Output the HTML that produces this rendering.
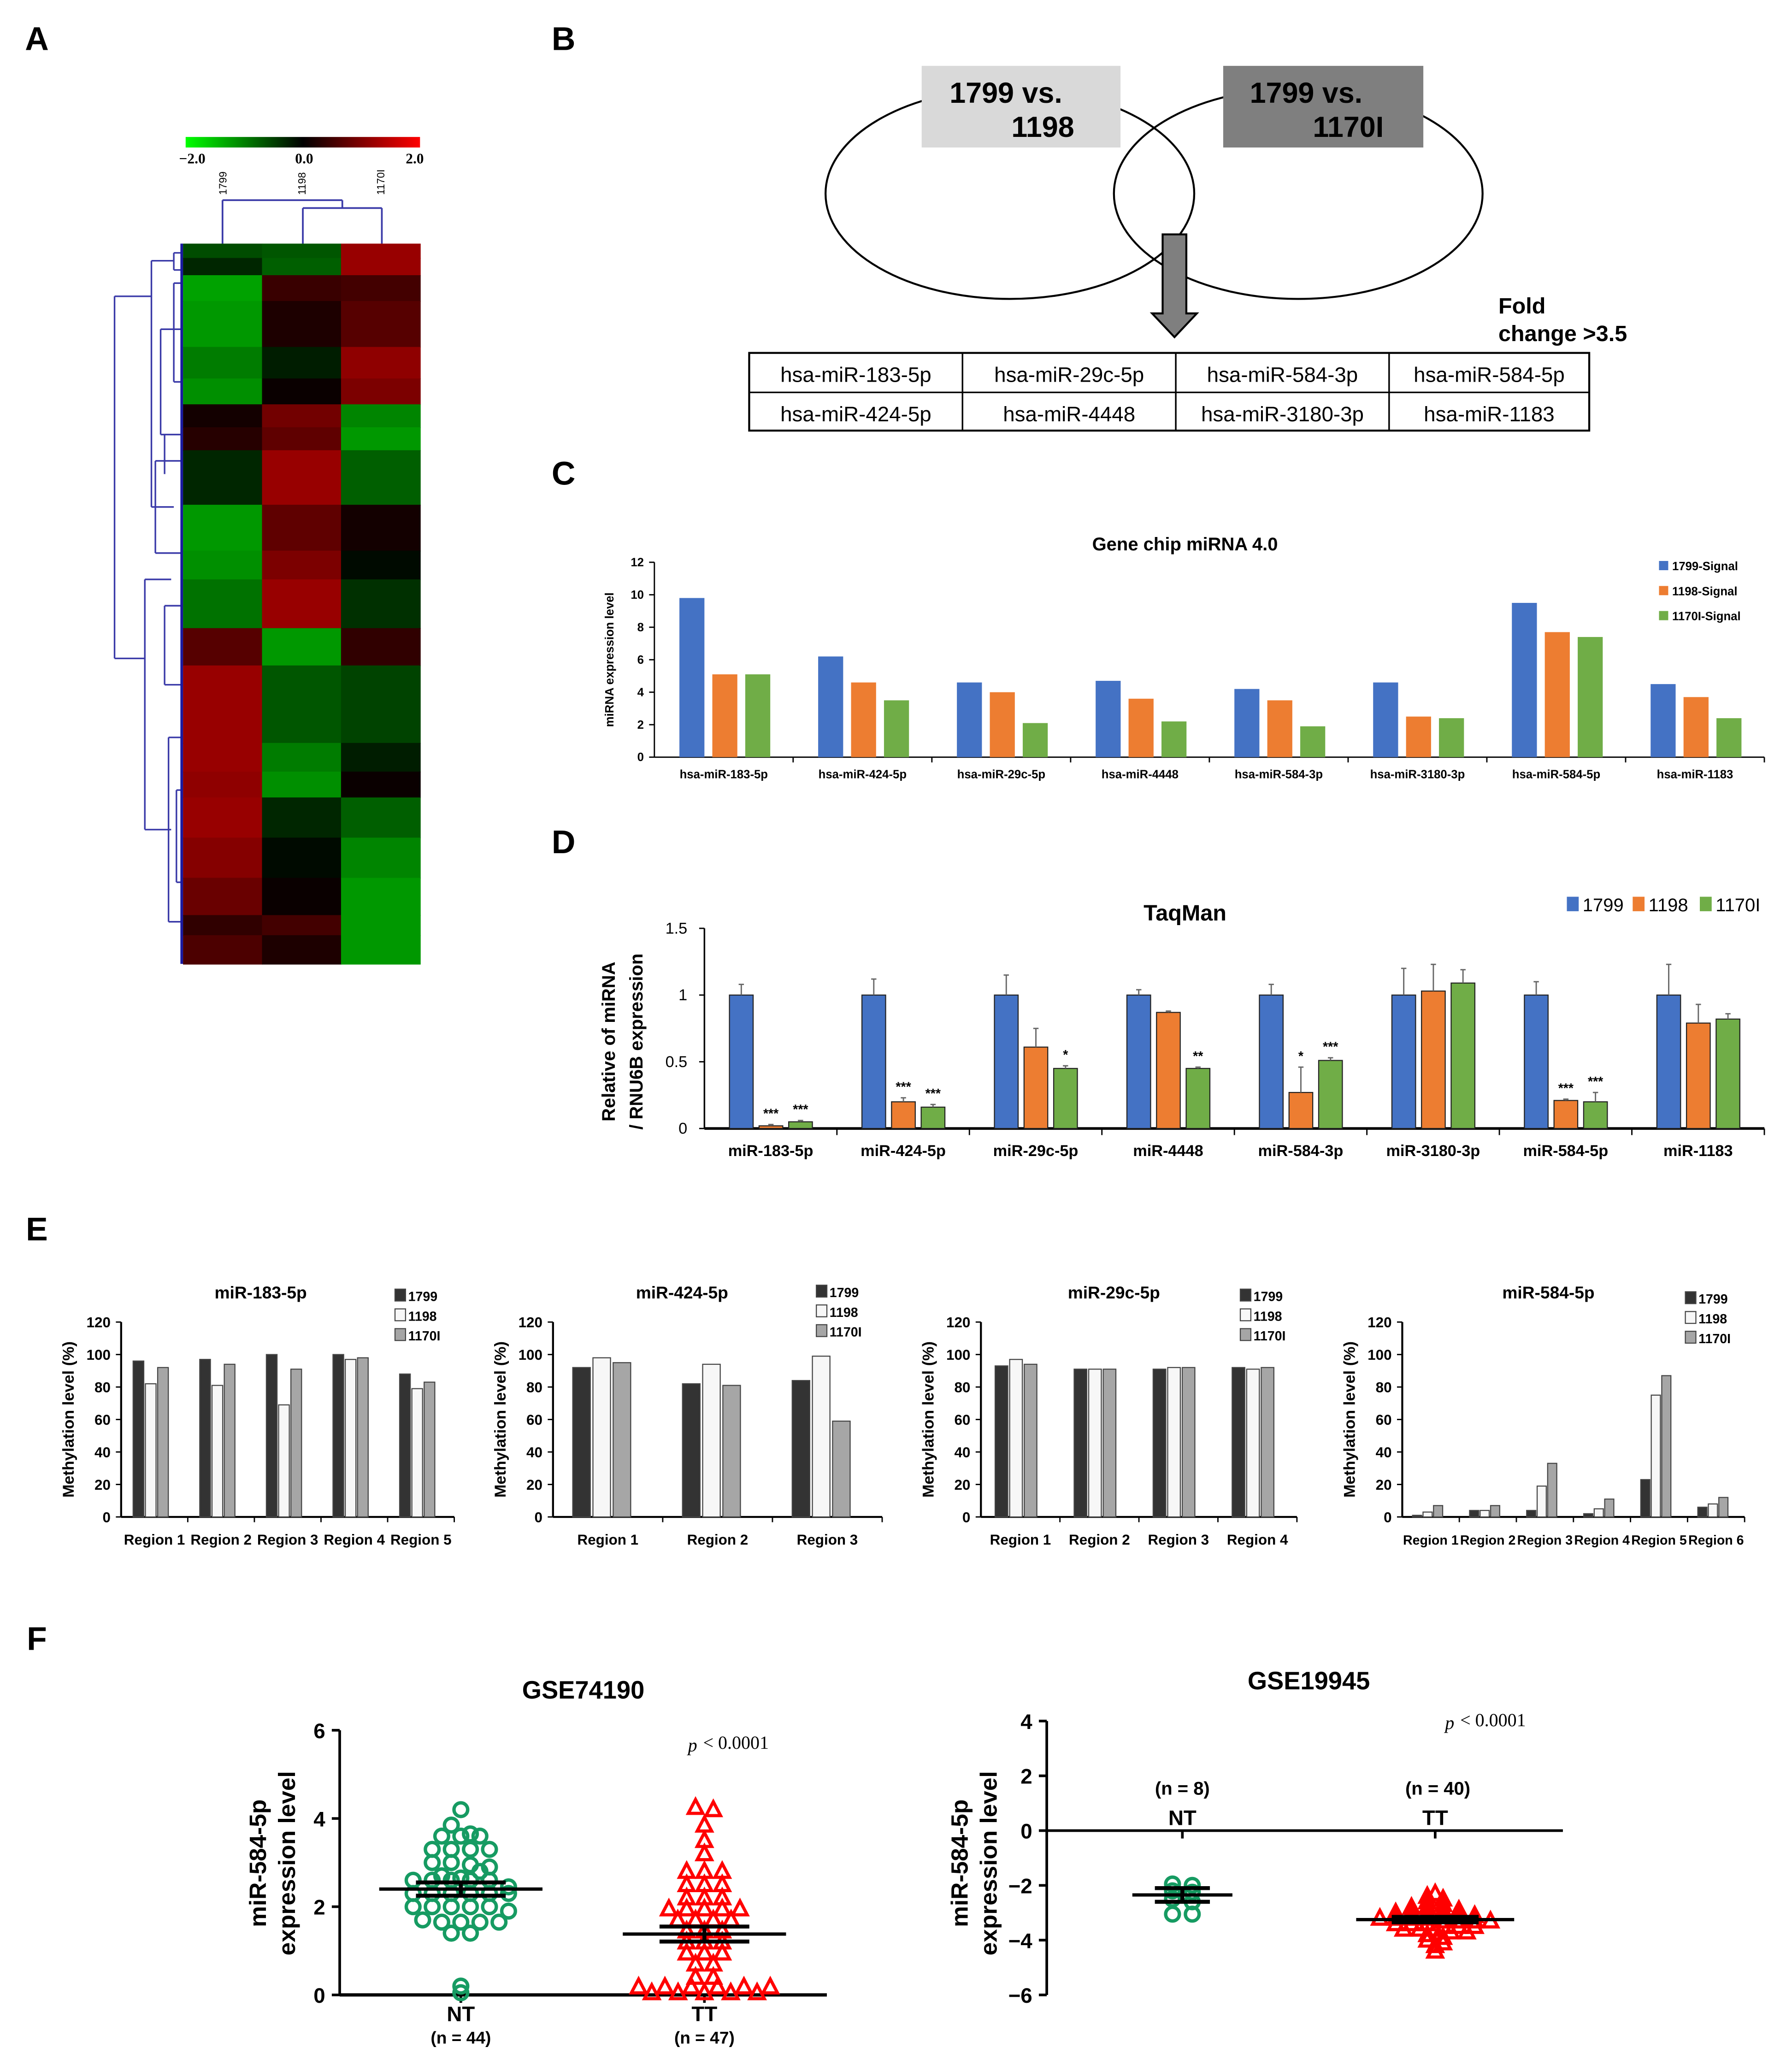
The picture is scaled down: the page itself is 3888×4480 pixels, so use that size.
<!DOCTYPE html>
<html><head><meta charset="utf-8"><style>
html,body{margin:0;padding:0;background:#fff}
svg{display:block;font-family:"Liberation Sans",sans-serif}
</style></head><body>
<svg id="fig" width="3888" height="4480" viewBox="0 0 1361 1568.2" xmlns="http://www.w3.org/2000/svg">
<g id="root"></g>
</svg>
<script>
// ---------- DATA ----------
const hmStarts=[0,25,55,100,180,235,280,320,360,455,535,585,670,735,870,920,965,1035,1105,1170,1205];
const hmEnd=1255;
const hm1799=[-0.8,-0.4,-1.7,-1.6,-1.3,-1.5,0.2,0.4,-0.4,-1.6,-1.5,-1.2,0.9,1.6,1.6,1.5,1.6,1.4,1.1,0.5,0.8];
const hm1198=[-0.9,-1.0,0.6,0.3,-0.3,0.1,1.2,1.0,1.6,1.0,1.3,1.6,-1.6,-0.9,-1.3,-1.5,-0.4,-0.1,0.1,0.7,0.3];
const hm1170=[1.6,1.6,0.7,0.9,1.5,1.3,-1.4,-1.6,-1.0,0.2,-0.1,-0.5,0.5,-0.7,-0.3,0.1,-1.0,-1.4,-1.6,-1.6,-1.6];
const tableRows=[["hsa-miR-183-5p","hsa-miR-29c-5p","hsa-miR-584-3p","hsa-miR-584-5p"],["hsa-miR-424-5p","hsa-miR-4448","hsa-miR-3180-3p","hsa-miR-1183"]];

const cCats=["hsa-miR-183-5p","hsa-miR-424-5p","hsa-miR-29c-5p","hsa-miR-4448","hsa-miR-584-3p","hsa-miR-3180-3p","hsa-miR-584-5p","hsa-miR-1183"];
const c1799=[9.8,6.2,4.6,4.7,4.2,4.6,9.5,4.5];
const c1198=[5.1,4.6,4.0,3.6,3.5,2.5,7.7,3.7];
const c1170=[5.1,3.5,2.1,2.2,1.9,2.4,7.4,2.4];
const cTicks=[0,2,4,6,8,10,12];

const dCats=["miR-183-5p","miR-424-5p","miR-29c-5p","miR-4448","miR-584-3p","miR-3180-3p","miR-584-5p","miR-1183"];
const d1799=[1,1,1,1,1,1,1,1];
const d1198=[0.02,0.2,0.61,0.87,0.27,1.03,0.21,0.79];
const d1170=[0.05,0.16,0.45,0.45,0.51,1.09,0.2,0.82];
const e1799=[0.08,0.12,0.15,0.04,0.08,0.2,0.1,0.23];
const e1198=[0.01,0.03,0.14,0.01,0.19,0.2,0.01,0.14];
const e1170=[0.01,0.02,0.02,0.01,0.02,0.1,0.07,0.04];
const s1198=["***","***","","","*","","***",""];
const s1170=["***","***","*","**","***","","***",""];
const dTicks=[0,0.5,1,1.5];
const dTickLabels=["0","0.5","1","1.5"];

const eTitles=["miR-183-5p","miR-424-5p","miR-29c-5p","miR-584-5p"];
const eA1799=[96,97,100,100,88], eA1198=[82,81,69,97,79], eA1170=[92,94,91,98,83];
const eB1799=[92,82,84], eB1198=[98,94,99], eB1170=[95,81,59];
const eC1799=[93,91,91,92], eC1198=[97,91,92,91], eC1170=[94,91,92,92];
const eD1799=[1,4,4,2,23,6], eD1198=[3,4,19,5,75,8], eD1170=[7,7,33,11,87,12];
const eTicks=[0,20,40,60,80,100,120];

const fLeftNT=[4.2,3.85,3.65,3.6,3.6,3.6,3.3,3.3,3.3,3.3,3.0,3.0,2.95,2.9,2.7,2.65,2.6,2.6,2.6,2.6,2.6,2.3,2.3,2.3,2.3,2.3,2.3,2.0,2.0,2.0,2.0,2.0,1.9,1.7,1.65,1.65,1.65,1.65,1.4,1.4,0.2,0.05,2.45,2.8];
const fLeftTT=[4.25,4.2,3.85,3.5,3.2,2.8,2.8,2.8,2.5,2.5,2.5,2.2,2.2,2.2,1.95,1.95,1.95,1.95,1.95,1.7,1.7,1.7,1.7,1.45,1.45,1.45,1.2,1.2,1.2,0.95,0.95,0.95,0.7,0.7,0.4,0.4,0.18,0.18,0.18,0.18,0.18,0.18,0.05,0.05,0.05,0.05,0.05];
const fLeftMean=[2.4,1.38], fLeftSem=[0.15,0.17];
const fRightNT=[-1.95,-2.0,-2.2,-2.25,-2.5,-2.6,-3.05,-3.05];
const fRightTT=[-2.3,-2.4,-2.5,-2.6,-2.7,-2.8,-2.8,-2.9,-2.9,-3.0,-3.0,-3.0,-3.1,-3.1,-3.1,-3.2,-3.2,-3.2,-3.2,-3.3,-3.3,-3.3,-3.3,-3.4,-3.4,-3.4,-3.5,-3.5,-3.5,-3.6,-3.6,-3.6,-3.7,-3.7,-3.8,-3.9,-4.0,-4.1,-4.2,-4.4];
const fRightMean=[-2.35,-3.25], fRightSem=[0.25,0.1];

// ---------- HELPERS ----------
const NS="http://www.w3.org/2000/svg";
const root=document.getElementById('root');
function mk(tag,at,par){const e=document.createElementNS(NS,tag);for(const k in at)e.setAttribute(k,at[k]);(par||root).appendChild(e);return e;}
function txt(s,x,y,size,opts,par){const o=Object.assign({x:x,y:y,'font-size':size,'font-weight':'bold','text-anchor':'middle',fill:'#000'},opts||{});const t=mk('text',o,par);t.textContent=s;return t;}
function lin(x1,y1,x2,y2,w,c,par){return mk('line',{x1:x1,y1:y1,x2:x2,y2:y2,stroke:c||'#000','stroke-width':w||1},par);}
function hmColor(v){const a=Math.min(1,Math.abs(v)/2);const c=Math.round(190*a);return v<0?`rgb(0,${c},0)`:`rgb(${c},0,0)`;}

// ---------- PANEL LETTERS ----------
[["A",28,38],["B",428,38],["C",428,368],["D",428,648],["E",28,942],["F",28,1253]].forEach(p=>{
  const t=txt(p[0],p[1],p[2],25,{});
  
  
});

// ---------- PANEL A: HEATMAP ----------
const gA=mk('g',{});


const hmX=139,hmY=185,hmW=180,hmH=547,colW=hmW/3;
const hmCols=[hm1799,hm1198,hm1170];
hmCols.forEach((col,ci)=>{
  col.forEach((v,ri)=>{
    const y0=hmY+hmStarts[ri]/hmEnd*hmH, y1=hmY+(ri+1<hmStarts.length?hmStarts[ri+1]:hmEnd)/hmEnd*hmH;
    const r=mk('rect',{x:hmX+ci*colW,y:y0,width:colW+0.5,height:y1-y0+0.5,fill:hmColor(v)},gA);
    
    
  });
});
const defs=mk('defs',{});
const lg=mk('linearGradient',{id:'cbar',x1:0,x2:1,y1:0,y2:0},defs);
mk('stop',{offset:'0','stop-color':'#00ff00'},lg);mk('stop',{offset:'0.5','stop-color':'#000'},lg);mk('stop',{offset:'1','stop-color':'#ff0000'},lg);
const cb=mk('rect',{x:141,y:104,width:178,height:8,fill:'url(#cbar)'},gA);


txt("−2.0",146,124,11,{'font-family':'Liberation Serif'},gA);
txt("0.0",231,124,11,{'font-family':'Liberation Serif'},gA);
txt("2.0",315,124,11,{'font-family':'Liberation Serif'},gA);
["1799","1198","1170I"].forEach((s,i)=>{
  const t=txt(s,0,0,8,{'font-weight':'normal',transform:`translate(${hmX+colW*i+colW/2+3},148) rotate(-90)`,'text-anchor':'start'},gA);
  
  
});
const dc='#3a3aa8';
[[169,185,169,152],[169,152,260,152],[260,152,260,158],[230,158,290,158],[230,158,230,185],[290,158,290,185]].forEach(l=>lin(l[0],l[1],l[2],l[3],1.3,dc,gA));
[[87,225,87,500],[87,225,115,225],[87,500,110,500],[115,198,115,385],[115,198,132,198],[115,385,132,385],[110,440,110,630],[110,440,130,440],[110,630,130,630],
 [132,192,132,205],[132,205,139,205],[132,192,139,192],[122,250,122,330],[122,250,139,250],[122,330,139,330],[125,330,125,360],
 [118,350,118,420],[118,350,139,350],[118,420,139,420],[125,460,125,520],[125,460,139,460],[125,520,139,520],[128,560,128,700],[128,560,139,560],[128,700,139,700],
 [132,215,132,290],[132,215,139,215],[132,290,139,290],[134,600,134,670],[134,600,139,600],[134,670,139,670]].forEach(l=>lin(l[0],l[1],l[2],l[3],1.2,dc,gA));
lin(138,185,138,732,2,'#1a1aa0',gA);

// ---------- PANEL B: VENN ----------
const gB=mk('g',{});


const e1=mk('ellipse',{cx:767,cy:147,rx:140,ry:80,fill:'none',stroke:'#000','stroke-width':1.5},gB);


const e2=mk('ellipse',{cx:986,cy:147,rx:140,ry:80,fill:'none',stroke:'#000','stroke-width':1.5},gB);


const b1=mk('rect',{x:700,y:50,width:151,height:62,fill:'#d9d9d9'},gB);


const b2=mk('rect',{x:929,y:50,width:152,height:62,fill:'#7f7f7f'},gB);


txt("1799 vs.",764,78,22,{},gB);txt("1198",792,104,22,{},gB);
txt("1799 vs.",992,78,22,{},gB);txt("1170I",1024,104,22,{},gB);
const arr=mk('path',{d:'M883,178 L901,178 L901,238 L909,238 L892,256 L875,238 L883,238 Z',fill:'#7f7f7f',stroke:'#000','stroke-width':1.5},gB);


txt("Fold",1138,238,17,{'text-anchor':'start'},gB);
txt("change  >3.5",1138,259,17,{'text-anchor':'start'},gB);
const tb=mk('g',{},gB);


mk('rect',{x:569,y:268,width:638,height:59,fill:'none',stroke:'#000','stroke-width':1.5},tb);
lin(569,298,1207,298,1.2,'#000',tb);
[731,893,1055].forEach(x=>lin(x,268,x,327,1.2,'#000',tb));
const colXs=[650,812,974,1131];
tableRows.forEach((row,ri)=>row.forEach((s,ci)=>{
  const t=txt(s,colXs[ci],290+ri*30,16,{'font-weight':'normal'},tb);
  
  
}));

// ---------- PANEL C ----------
const gC=mk('g',{});


const cX0=497,cX1=1340,cY0=575,cY1=427,cMax=12;
const cy=v=>cY0-(v/cMax)*(cY0-cY1);
const cGW=(cX1-cX0)/cCats.length;
lin(cX0,cY1,cX0,cY0,1,'#000',gC);lin(cX0,cY0,cX1,cY0,1,'#000',gC);
cTicks.forEach(t=>{lin(cX0-4,cy(t),cX0,cy(t),1,'#000',gC);txt(String(t),cX0-8,cy(t)+3,9,{'text-anchor':'end'},gC);});
txt("miRNA expression level",0,0,9,{transform:`translate(466,${(cY0+cY1)/2}) rotate(-90)`},gC);
txt("Gene chip miRNA 4.0",900,418,14,{},gC);
const cSer=[[c1799,'#4472c4'],[c1198,'#ed7d31'],[c1170,'#70ad47']];
cCats.forEach((cat,i)=>{
  const gx=cX0+i*cGW;
  lin(gx+cGW,cY0,gx+cGW,cY0+4,1,'#000',gC);
  const t=txt(cat,gx+cGW/2,591,9,{},gC);
  
  
  cSer.forEach((s,si)=>{
    const v=s[0][i];
    const r=mk('rect',{x:gx+19+si*25,y:cy(v),width:19,height:cY0-cy(v),fill:s[1]},gC);
    
    
  });
});
[["1799-Signal",'#4472c4'],["1198-Signal",'#ed7d31'],["1170I-Signal",'#70ad47']].forEach((l,i)=>{
  const r=mk('rect',{x:1260,y:426+i*19,width:7,height:7,fill:l[1]},gC);
  
  
  txt(l[0],1270,433+i*19,9,{'text-anchor':'start'},gC);
});

// ---------- PANEL D ----------
const gD=mk('g',{});


const dX0=535,dX1=1340,dY0=857,dY1=705,dMax=1.5;
const dy=v=>dY0-(v/dMax)*(dY0-dY1);
const dGW=(dX1-dX0)/dCats.length;
lin(dX0,dY1,dX0,dY0,1.2,'#000',gD);lin(dX0,dY0,dX1,dY0,2,'#000',gD);
dTicks.forEach((t,i)=>{lin(dX0-4,dy(t),dX0,dy(t),1,'#000',gD);txt(dTickLabels[i],dX0-13,dy(t)+4,12,{'text-anchor':'end','font-weight':'normal'},gD);});
txt("Relative of miRNA",0,0,14,{transform:`translate(467,${(dY0+dY1)/2+10}) rotate(-90)`},gD);
txt("/ RNU6B expression",0,0,14,{transform:`translate(488,${(dY0+dY1)/2+10}) rotate(-90)`},gD);
txt("TaqMan",900,699,17,{},gD);
const dSer=[[d1799,e1799,'#4472c4',null],[d1198,e1198,'#ed7d31',s1198],[d1170,e1170,'#70ad47',s1170]];
dCats.forEach((cat,i)=>{
  const gx=dX0+i*dGW;
  lin(gx+dGW,dY0,gx+dGW,dY0+5,1,'#000',gD);
  const t=txt(cat,gx+dGW/2,878,12,{},gD);
  
  
  dSer.forEach((s,si)=>{
    const v=s[0][i],x=gx+19+si*22.5;
    const r=mk('rect',{x:x,y:dy(v),width:18,height:dY0-dy(v),fill:s[2],stroke:'#222','stroke-width':0.8},gD);
    
    
    const eb=lin(x+9,dy(v),x+9,dy(v+s[1][i]),1,'#666',gD);
    
    
    lin(x+7,dy(v+s[1][i]),x+11,dy(v+s[1][i]),1,'#666',gD);
    if(s[3]&&s[3][i]){
      const st=txt(s[3][i],x+9,dy(v+s[1][i])-5,10,{},gD);
      
      
    }
  });
});
[["1799",'#4472c4',1190],["1198",'#ed7d31',1240],["1170I",'#70ad47',1291]].forEach(l=>{
  const r=mk('rect',{x:l[2],y:681,width:9,height:11,fill:l[1]},gD);
  
  
  txt(l[0],l[2]+12,692,14,{'text-anchor':'start','font-weight':'normal'},gD);
});

// ---------- PANEL E ----------
const eCharts=[
 {x0:92,x1:345,title:eTitles[0],s:[eA1799,eA1198,eA1170],tx:198,lx:300,ly:986},
 {x0:420,x1:670,title:eTitles[1],s:[eB1799,eB1198,eB1170],tx:518,lx:620,ly:983},
 {x0:745,x1:985,title:eTitles[2],s:[eC1799,eC1198,eC1170],tx:846,lx:942,ly:986},
 {x0:1065,x1:1325,title:eTitles[3],s:[eD1799,eD1198,eD1170],tx:1176,lx:1280,ly:988}];
const eCol=['#333','#f7f7f7','#a6a6a6'];
const eY0=1152,eY1=1004;
const ey=v=>eY0-(v/120)*(eY0-eY1);
eCharts.forEach((c,ci)=>{
  const g=mk('g',{});
  
  
  lin(c.x0,eY1,c.x0,eY0,1.5,'#000',g);lin(c.x0,eY0,c.x1,eY0,1.5,'#000',g);
  eTicks.forEach(t=>{lin(c.x0-4,ey(t),c.x0,ey(t),1,'#000',g);txt(String(t),c.x0-8,ey(t)+4,11,{'text-anchor':'end'},g);});
  txt("Methylation level (%)",0,0,12,{transform:`translate(${c.x0-36},${(eY0+eY1)/2}) rotate(-90)`,'font-weight':'bold'},g);
  txt(c.title,c.tx,986,13,{},g);
  const n=c.s[0].length,gw=(c.x1-c.x0)/n,bw=gw*0.16;
  for(let i=0;i<n;i++){
    const gx=c.x0+i*gw;
    lin(gx+gw,eY0,gx+gw,eY0+4,1,'#000',g);
    txt("Region "+(i+1),gx+gw/2,1173,n>5?10:11,{},g);
    c.s.forEach((ser,si)=>{
      const v=ser[i];
      const r=mk('rect',{x:gx+gw*0.18+si*bw*1.15,y:ey(v),width:bw,height:eY0-ey(v),fill:eCol[si],stroke:'#444','stroke-width':0.8},g);
      
      
    });
  }
  ["1799","1198","1170I"].forEach((s,si)=>{
    const r=mk('rect',{x:c.lx,y:c.ly-7+si*15,width:8,height:9,fill:eCol[si],stroke:'#444','stroke-width':0.8},g);
    
    
    txt(s,c.lx+10,c.ly+2+si*15,10,{'text-anchor':'start'},g);
  });
});

// ---------- PANEL F ----------
function swarm(vals,cx,yf,bin,dx,draw,lowDx){
  const groups={};
  vals.forEach(v=>{const k=Math.round(v/bin);(groups[k]=groups[k]||[]).push(v);});
  Object.keys(groups).forEach(k=>{const arr=groups[k];const d=(lowDx&&Math.abs(+k)<=1&&arr.length>4)?lowDx:dx;
    arr.forEach((v,i)=>draw(cx+(i-(arr.length-1)/2)*d,yf(v)));});
}
function circ(x,y,par){const c=mk('circle',{cx:x,cy:y,r:5.2,fill:'none',stroke:'#169b62','stroke-width':2.6},par);}
function tri(x,y,par){const p=mk('path',{d:`M${x},${y-6} L${x+5.5},${y+4.5} L${x-5.5},${y+4.5} Z`,fill:'none',stroke:'#ff0000','stroke-width':2.4},par);}
function meanBar(cx,m,sem,hw,yf,par){
  const a=lin(cx-hw,yf(m),cx+hw,yf(m),2.5,'#000',par);
  
  
  lin(cx-hw*0.55,yf(m+sem),cx+hw*0.55,yf(m+sem),3,'#000',par);
  lin(cx-hw*0.55,yf(m-sem),cx+hw*0.55,yf(m-sem),3,'#000',par);
  lin(cx,yf(m+sem),cx,yf(m-sem),3,'#000',par);
}
const gFL=mk('g',{});


const lY0=1515,lY1=1314;
const ly=v=>lY0-(v/6)*(lY0-lY1);
txt("GSE74190",443,1290,19,{},gFL);
lin(258,lY1,258,lY0,2,'#000',gFL);lin(258,lY0,628,lY0,2.5,'#000',gFL);
[0,2,4,6].forEach(t=>{lin(252,ly(t),258,ly(t),2,'#000',gFL);txt(String(t),247,ly(t)+6,16,{'text-anchor':'end'},gFL);});
[350,535].forEach(x=>lin(x,lY0,x,lY0+6,2,'#000',gFL));
txt("miR-584-5p",0,0,18,{transform:`translate(202,1415) rotate(-90)`},gFL);
txt("expression level",0,0,18,{transform:`translate(224,1415) rotate(-90)`},gFL);
txt("NT",350,1535,16,{},gFL);txt("(n = 44)",350,1552,13,{},gFL);
txt("TT",535,1535,16,{},gFL);txt("(n = 47)",535,1552,13,{},gFL);
txt("p",526,1330,14,{'font-family':'Liberation Serif','font-style':'italic','font-weight':'normal'},gFL);
txt("< 0.0001",534,1328,14,{'font-family':'Liberation Serif','font-weight':'normal','text-anchor':'start'},gFL);
swarm(fLeftNT,350,ly,0.25,14.5,(x,y)=>circ(x,y,gFL));
swarm(fLeftTT,535,ly,0.25,13.5,(x,y)=>tri(x,y,gFL),20);
meanBar(350,fLeftMean[0],fLeftSem[0],62,ly,gFL);
meanBar(535,fLeftMean[1],fLeftSem[1],62,ly,gFL);
const gFR=mk('g',{});


const rY0=1515,rY1=1307;
const ry=v=>rY0-((v+6)/10)*(rY0-rY1);
txt("GSE19945",994,1283,19,{},gFR);
lin(795,rY1,795,rY0,2,'#000',gFR);lin(795,ry(0),1187,ry(0),2,'#000',gFR);
[-6,-4,-2,0,2,4].forEach(t=>{lin(789,ry(t),795,ry(t),2,'#000',gFR);txt(t<0?"−"+(-t):String(t),784,ry(t)+6,16,{'text-anchor':'end'},gFR);});
[898,1090].forEach(x=>lin(x,ry(0),x,ry(0)+6,2,'#000',gFR));
txt("miR-584-5p",0,0,18,{transform:`translate(735,1415) rotate(-90)`},gFR);
txt("expression level",0,0,18,{transform:`translate(757,1415) rotate(-90)`},gFR);
txt("(n = 8)",898,1363,14,{},gFR);txt("NT",898,1386,16,{},gFR);
txt("(n = 40)",1092,1363,14,{},gFR);txt("TT",1090,1386,16,{},gFR);
txt("p",1101,1313,14,{'font-family':'Liberation Serif','font-style':'italic','font-weight':'normal'},gFR);
txt("< 0.0001",1109,1311,14,{'font-family':'Liberation Serif','font-weight':'normal','text-anchor':'start'},gFR);
swarm(fRightNT,898,ry,0.25,15,(x,y)=>circ(x,y,gFR));
swarm(fRightTT,1090,ry,0.2,12,(x,y)=>tri(x,y,gFR));
meanBar(898,fRightMean[0],fRightSem[0],38,ry,gFR);
meanBar(1090,fRightMean[1],fRightSem[1],60,ry,gFR);
</script>
</body></html>
